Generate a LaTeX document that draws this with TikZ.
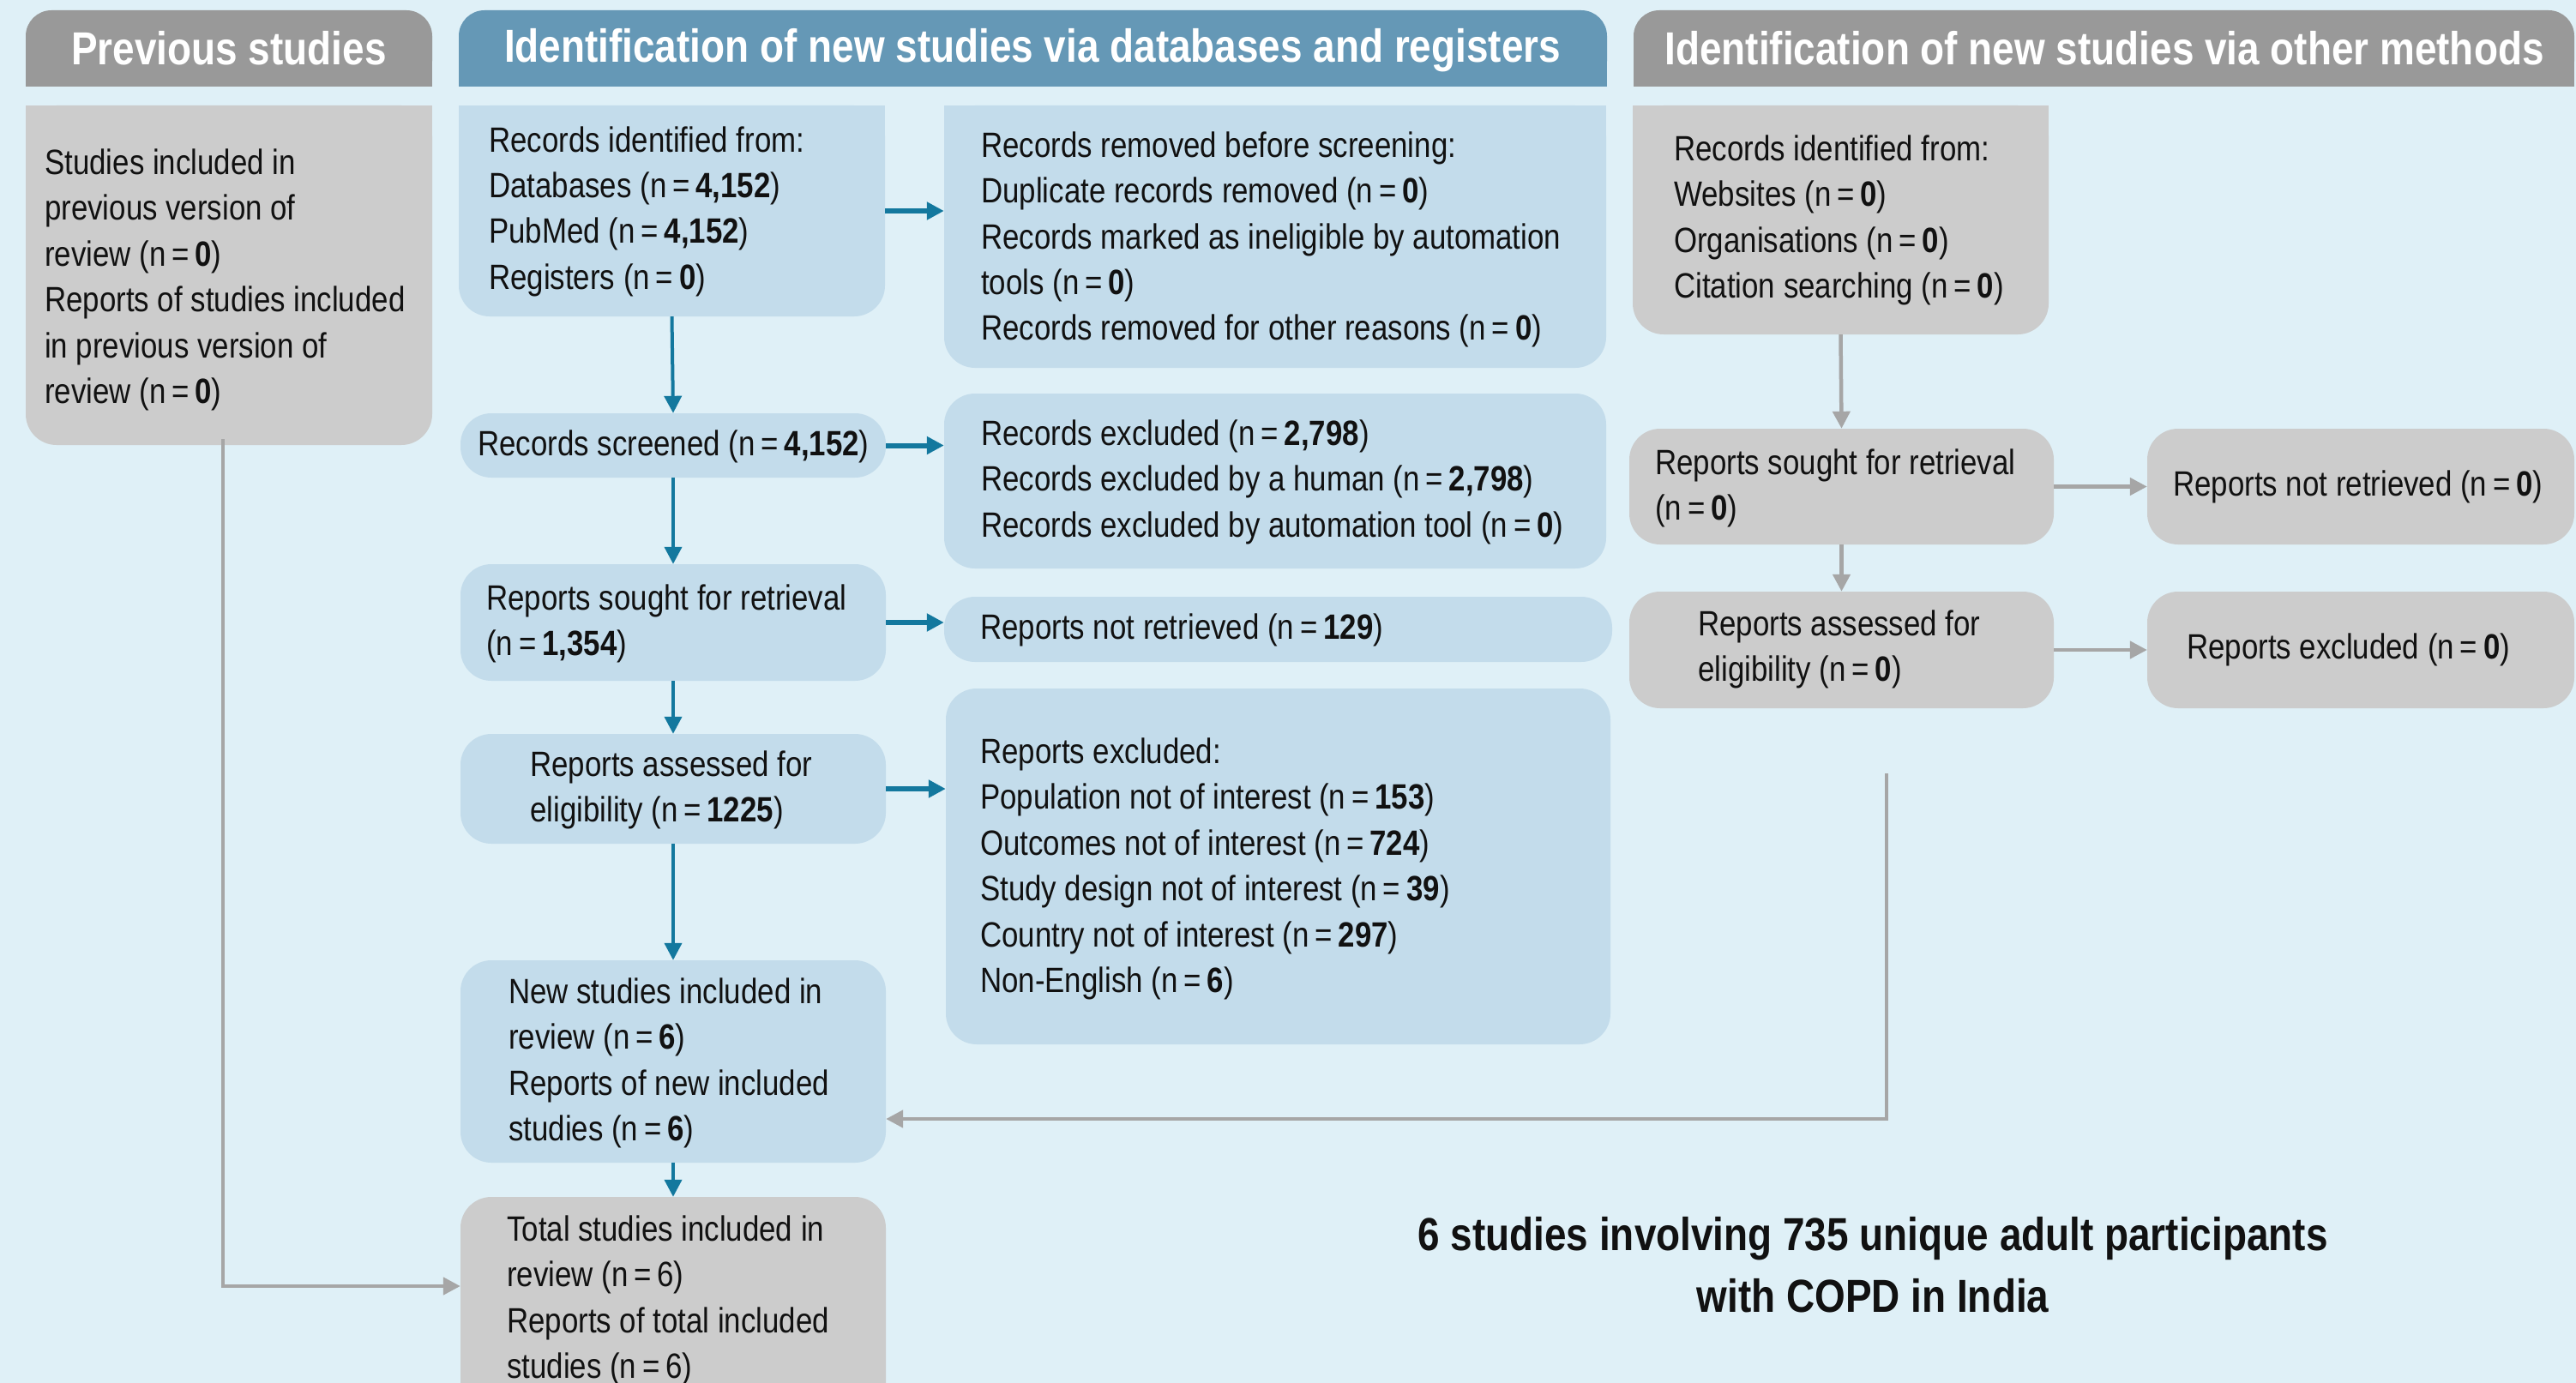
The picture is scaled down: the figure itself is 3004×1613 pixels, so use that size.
\documentclass[tikz,border=0pt]{standalone}
\usepackage{fontspec}
\setmainfont{Liberation Sans}[FakeStretch=0.85]
\usetikzlibrary{arrows.meta,fit}
\definecolor{bgc}{HTML}{DFF0F7}
\definecolor{lbox}{HTML}{C3DCEB}
\definecolor{gbox}{HTML}{CCCCCC}
\definecolor{ghead}{HTML}{999999}
\definecolor{bhead}{HTML}{6598B6}
\definecolor{barrow}{HTML}{13789E}
\definecolor{garrow}{HTML}{A6A6A6}
\definecolor{ink}{HTML}{111111}
\newcommand{\nval}[1]{(n\,=\,\textbf{#1})}
\newcommand{\nreg}[1]{(n\,=\,#1)}
\tikzset{
  bluebox/.style={fill=lbox, rounded corners=36pt, inner sep=0pt},
  graybox/.style={fill=gbox, rounded corners=36pt, inner sep=0pt},
  grayhead/.style={fill=ghead, rounded corners=30pt, inner sep=0pt},
  bluehead/.style={fill=bhead, rounded corners=30pt, inner sep=0pt},
  % anchor base = baseline of the LAST line of a multi-line node
  txt/.style={anchor=base west, align=left, inner sep=0pt, text=ink, font=\fontsize{41}{53.5}\selectfont},
  htxt/.style={anchor=base, inner sep=0pt, text=white, font=\fontsize{54}{60}\selectfont\bfseries},
  sumtxt/.style={anchor=base, align=center, inner sep=0pt, text=ink, font=\fontsize{54}{72}\selectfont\bfseries},
  bar/.style={draw=barrow, line width=4pt, -{Triangle[length=20pt,width=20pt]}},
  barh/.style={draw=barrow, line width=6pt, -{Triangle[length=20pt,width=20pt]}},
  gar/.style={draw=garrow, line width=4.5pt, -{Triangle[length=20pt,width=20pt]}},
}
\begin{document}
\begin{tikzpicture}[x=1pt,y=-1pt]
\fill[bgc] (0,0) rectangle (3004,1613);
\useasboundingbox (0,0) rectangle (3004,1613);
\clip (0,0) rectangle (3004,1613);

% headers
\node[grayhead, fit={(30,12) (504,101)}] (h1) {};
\node[bluehead, fit={(535,12) (1874,101)}] (h2) {};
\node[grayhead, fit={(1905,12) (3002,101)}] (h3) {};
\fill[ghead] (h1.west) rectangle (h1.south east);
\fill[bhead] (h2.west) rectangle (h2.south east);
\fill[ghead] (h3.west) rectangle (h3.south east);
\node[htxt] (h1t) at (267,76) {Previous studies};
\node[htxt] (h2t) at (1204,73) {Identification of new studies via databases and registers};
\node[htxt] (h3t) at (2454,76) {Identification of new studies via other methods};

% boxes
\node[graybox, fit={(30,123) (504,519)}] (prev) {};
\node[bluebox, fit={(535,123) (1032,369)}] (recid) {};
\node[bluebox, fit={(1101,123) (1873,429)}] (removed) {};
\node[bluebox, fit={(537,482) (1033,557)}] (screened) {};
\node[bluebox, fit={(1101,459) (1873,663)}] (excl) {};
\node[bluebox, fit={(537,658) (1033,794)}] (sought) {};
\node[bluebox, fit={(1101,696) (1880,772)}] (notret) {};
\node[bluebox, fit={(537,856) (1033,984)}] (assess) {};
\node[bluebox, fit={(1103,803) (1878,1218)}] (repex) {};
\node[bluebox, fit={(537,1120) (1033,1356)}] (newst) {};
\node[graybox, fit={(537,1396) (1033,1700)}] (total) {};
\node[graybox, fit={(1904,123) (2389,390)}] (orecid) {};
\node[graybox, fit={(1900,500) (2395,635)}] (osought) {};
\node[graybox, fit={(2504,500) (3002,635)}] (onotret) {};
\node[graybox, fit={(1900,690) (2395,826)}] (oassess) {};
\node[graybox, fit={(2504,690) (3002,826)}] (oexcl) {};
% square top corners
\fill[gbox] (prev.north west) rectangle (prev.east);
\fill[lbox] (recid.north west) rectangle (recid.east);
\fill[lbox] (removed.north west) rectangle (removed.east);
\fill[gbox] (orecid.north west) rectangle (orecid.east);

% texts (positions give the baseline of the last line)
\node[txt] (prevT) at (52,470.5) {Studies included in\\previous version of\\review \nval{0}\\Reports of studies included\\in previous version of\\review \nval{0}};
\node[txt] (recidT) at (570,337.5) {Records identified from:\\Databases \nval{4,152}\\PubMed \nval{4,152}\\Registers \nval{0}};
\node[txt] (removedT) at (1144,397) {Records removed before screening:\\Duplicate records removed \nval{0}\\Records marked as ineligible by automation\\tools \nval{0}\\Records removed for other reasons \nval{0}};
\node[txt] (screenedT) at (557,531) {Records screened \nval{4,152}};
\node[txt] (exclT) at (1144,626) {Records excluded \nval{2,798}\\Records excluded by a human \nval{2,798}\\Records excluded by automation tool \nval{0}};
\node[txt] (soughtT) at (567,764.5) {Reports sought for retrieval\\\nval{1,354}};
\node[txt] (notretT) at (1143,745) {Reports not retrieved \nval{129}};
\node[txt] (assessT) at (618,958.5) {Reports assessed for\\eligibility \nval{1225}};
\node[txt] (repexT) at (1143,1157.5) {Reports excluded:\\Population not of interest \nval{153}\\Outcomes not of interest \nval{724}\\Study design not of interest \nval{39}\\Country not of interest \nval{297}\\Non-English \nval{6}};
\node[txt] (newT) at (593,1330.5) {New studies included in\\review \nval{6}\\Reports of new included\\studies \nval{6}};
\node[txt] (totalT) at (591,1607.5) {Total studies included in\\review \nreg{6}\\Reports of total included\\studies \nreg{6}};
\node[txt] (orecidT) at (1952,347.5) {Records identified from:\\Websites \nval{0}\\Organisations \nval{0}\\Citation searching \nval{0}};
\node[txt] (osoughtT) at (1930,606.5) {Reports sought for retrieval\\\nval{0}};
\node[txt] (onotretT) at (2534,578) {Reports not retrieved \nval{0}};
\node[txt] (oassessT) at (1980,794.5) {Reports assessed for\\eligibility \nval{0}};
\node[txt] (oexclT) at (2550,768) {Reports excluded \nval{0}};
\node[sumtxt] (summary) at (2184,1530) {6 studies involving 735 unique adult participants\\with COPD in India};

% blue connectors
\draw[bar] (recid.south) -- (screened.north);
\draw[bar] (screened.south) -- (sought.north);
\draw[bar] (sought.south) -- (assess.north);
\draw[bar] (assess.south) -- (newst.north);
\draw[bar] (newst.south) -- (total.north);
\draw[barh] (recid.east) -- (recid.east -| removed.west);
\draw[barh] (screened.east) -- (screened.east -| excl.west);
\draw[barh] (sought.east) -- (sought.east -| notret.west);
\draw[barh] (assess.east) -- (assess.east -| repex.west);

% gray connectors
\draw[gar] (orecid.south) -- (osought.north);
\draw[gar] (osought.south) -- (oassess.north);
\draw[gar] (osought.east) -- (osought.east -| onotret.west);
\draw[gar] (oassess.east) -- (oassess.east -| oexcl.west);
\coordinate (gA) at (2200,902);
\coordinate (gB) at (2200,1305);
\draw[gar] (gA) -- (gB) -- (gB -| newst.east);
\coordinate (pA) at (260,512);
\coordinate (pB) at (260,1500);
\draw[gar] (pA) -- (pB) -- (pB -| total.west);
\end{tikzpicture}
\end{document}
